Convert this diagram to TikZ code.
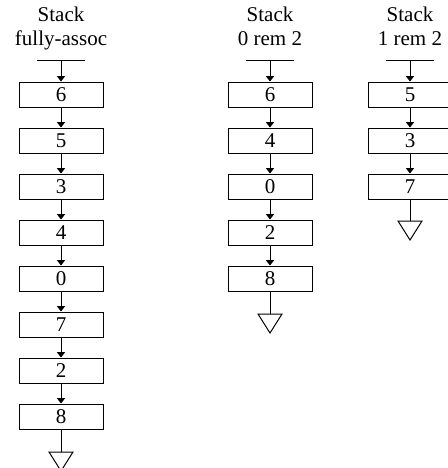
\documentclass[tikz,border=0pt]{standalone}
\usepackage{fontspec}
\setmainfont{Liberation Serif}
\usetikzlibrary{arrows.meta}

\tikzset{every picture/.style={line width=0.75pt}}
\tikzset{
  stackhead/.style={anchor=north, inner sep=0.75pt, align=center, font=\fontsize{15.75}{18}\selectfont},
  entry/.style={draw, rectangle, minimum width=63pt, minimum height=18.75pt, inner sep=0pt, font=\fontsize{15.75}{18}\selectfont},
  link/.style={-{Triangle[width=6pt,length=4pt]}}
}

\begin{document}
\begin{tikzpicture}[x=0.75pt,y=0.75pt,yscale=-1,xscale=1]
\useasboundingbox (0,0) rectangle (447,468);

% Text Node
\node [stackhead] (hfa) at (61,5) {Stack\\fully-assoc};
% Text Node
\node [stackhead] (hev) at (270,5) {Stack\\0 rem 2};
% Text Node
\node [stackhead] (hod) at (410,5) {Stack\\1 rem 2};

%Straight Lines: top of each stack
\coordinate (tfa) at (61,60);
\coordinate (tev) at (270,60);
\coordinate (tod) at (410,60);
\draw ([xshift=-18pt]tfa) -- ([xshift=18pt]tfa);
\draw ([xshift=-18pt]tev) -- ([xshift=18pt]tev);
\draw ([xshift=-18pt]tod) -- ([xshift=18pt]tod);

%Shape: Rectangle -- fully-assoc stack
\node [entry] (fa6) at (61,94.5) {6};
\node [entry] (fa5) at (61,140.5) {5};
\node [entry] (fa3) at (61,186.5) {3};
\node [entry] (fa4) at (61,232.5) {4};
\node [entry] (fa0) at (61,278.5) {0};
\node [entry] (fa7) at (61,324.5) {7};
\node [entry] (fa2) at (61,370.5) {2};
\node [entry] (fa8) at (61,416.5) {8};

%Shape: Rectangle -- 0 rem 2 stack
\node [entry] (ev6) at (270,94.5) {6};
\node [entry] (ev4) at (270,140.5) {4};
\node [entry] (ev0) at (270,186.5) {0};
\node [entry] (ev2) at (270,232.5) {2};
\node [entry] (ev8) at (270,278.5) {8};

%Shape: Rectangle -- 1 rem 2 stack
\node [entry] (od5) at (410,94.5) {5};
\node [entry] (od3) at (410,140.5) {3};
\node [entry] (od7) at (410,186.5) {7};

%Straight Lines [links]
\draw [link] (tfa) -- (fa6);
\draw [link] (fa6) -- (fa5);
\draw [link] (fa5) -- (fa3);
\draw [link] (fa3) -- (fa4);
\draw [link] (fa4) -- (fa0);
\draw [link] (fa0) -- (fa7);
\draw [link] (fa7) -- (fa2);
\draw [link] (fa2) -- (fa8);

\draw [link] (tev) -- (ev6);
\draw [link] (ev6) -- (ev4);
\draw [link] (ev4) -- (ev0);
\draw [link] (ev0) -- (ev2);
\draw [link] (ev2) -- (ev8);

\draw [link] (tod) -- (od5);
\draw [link] (od5) -- (od3);
\draw [link] (od3) -- (od7);

%Shape: Triangle -- end of each stack
\coordinate (efa) at (61,452);
\coordinate (eev) at (270,314);
\coordinate (eod) at (410,221);
\draw (fa8) -- (efa);
\draw (ev8) -- (eev);
\draw (od7) -- (eod);
\draw (efa) ++(-12,0) -- ++(24,0) -- ++(-12,19) -- cycle;
\draw (eev) ++(-12,0) -- ++(24,0) -- ++(-12,19) -- cycle;
\draw (eod) ++(-12,0) -- ++(24,0) -- ++(-12,19) -- cycle;

\end{tikzpicture}
\end{document}
